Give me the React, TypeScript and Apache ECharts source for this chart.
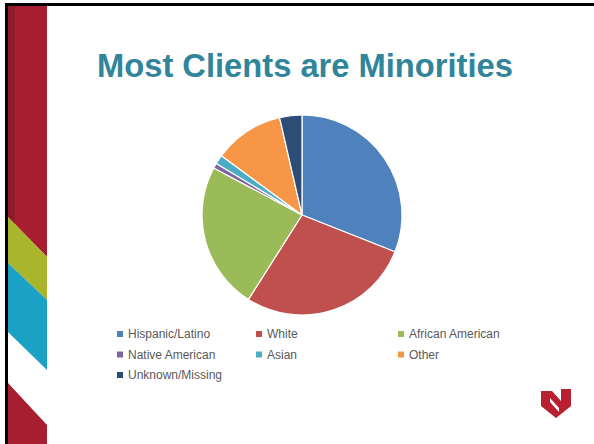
import React, { useEffect, useRef } from "react";
import * as echarts from "echarts";

const categories = [
  "Hispanic/Latino",
  "White",
  "African American",
  "Native American",
  "Asian",
  "Other",
  "Unknown/Missing",
];
const values = [31.0, 28.0, 23.8, 0.8, 1.5, 11.3, 3.6];
const colors = ["#4F81BD", "#C0504D", "#9BBB59", "#8064A2", "#4BACC6", "#F79646", "#2C4D75"];
const legendColumns = [
  ["Hispanic/Latino", "Native American", "Unknown/Missing"],
  ["White", "Asian"],
  ["African American", "Other"],
];
const legendLefts = [117, 256, 398];
const titleText = "Most Clients are Minorities";

export default function App() {
  const ref = useRef<HTMLDivElement>(null);
  useEffect(() => {
    document.body.style.margin = "0";
    const chart = echarts.init(ref.current!, null, { renderer: "svg" });
    const red = "#A81E31";
    chart.setOption({
      animation: false,
      backgroundColor: "#ffffff",
      title: {
        text: titleText,
        left: 97,
        top: 49,
        padding: 0,
        textStyle: {
          fontFamily: "Liberation Sans, Arial, sans-serif",
          fontSize: 32.7,
          fontWeight: "bold",
          color: "#31859B",
        },
      },
      legend: legendColumns.map((col, i) => ({
        data: col,
        orient: "vertical",
        left: legendLefts[i],
        top: 327,
        padding: 0,
        icon: "rect",
        itemWidth: 6,
        itemHeight: 6,
        itemGap: 6.5,
        selectedMode: false,
        itemStyle: { borderWidth: 0 },
        textStyle: {
          fontFamily: "Liberation Sans, Arial, sans-serif",
          fontSize: 12,
          lineHeight: 14,
          color: "#595959",
        },
      })),
      series: [
        {
          type: "pie",
          center: [302, 215],
          radius: 100,
          startAngle: 90,
          clockwise: true,
          label: { show: false },
          labelLine: { show: false },
          emphasis: { disabled: true },
          itemStyle: { borderColor: "#ffffff", borderWidth: 1.2 },
          data: categories.map((c, i) => ({
            name: c,
            value: values[i],
            itemStyle: { color: colors[i] },
          })),
        },
      ],
      graphic: [
        { type: "rect", shape: { x: 5, y: 3, width: 589, height: 3 }, style: { fill: "#000" } },
        { type: "rect", shape: { x: 5, y: 3, width: 3, height: 441 }, style: { fill: "#000" } },
        { type: "polygon", shape: { points: [[8, 6], [47, 6], [47, 257], [8, 217]] }, style: { fill: red } },
        { type: "polygon", shape: { points: [[8, 6], [15, 6], [15, 224], [8, 217]] }, style: { fill: "#8E1B2B" } },
        { type: "polygon", shape: { points: [[8, 217], [47, 257], [47, 300], [8, 263]] }, style: { fill: "#A9B52C" } },
        { type: "polygon", shape: { points: [[8, 263], [47, 300], [47, 370], [8, 332]] }, style: { fill: "#1BA1C5" } },
        { type: "polygon", shape: { points: [[8, 383], [47, 425], [47, 444], [8, 444]] }, style: { fill: red } },
        {
          type: "group",
          x: 541,
          y: 388,
          children: [
            {
              type: "polygon",
              shape: { points: [[0, 3], [11, 3], [20, 13], [20, 1], [30, 1], [30, 18], [15, 30], [0, 18]] },
              style: { fill: "#B8202F" },
            },
            {
              type: "polygon",
              shape: { points: [[9, 10], [18, 20], [18, 24], [9, 14]] },
              style: { fill: "#ffffff" },
            },
          ],
        },
      ],
    });
    return () => chart.dispose();
  }, []);
  return <div ref={ref} style={{ position: "fixed", left: 0, top: 0, width: 594, height: 444 }} />;
}
